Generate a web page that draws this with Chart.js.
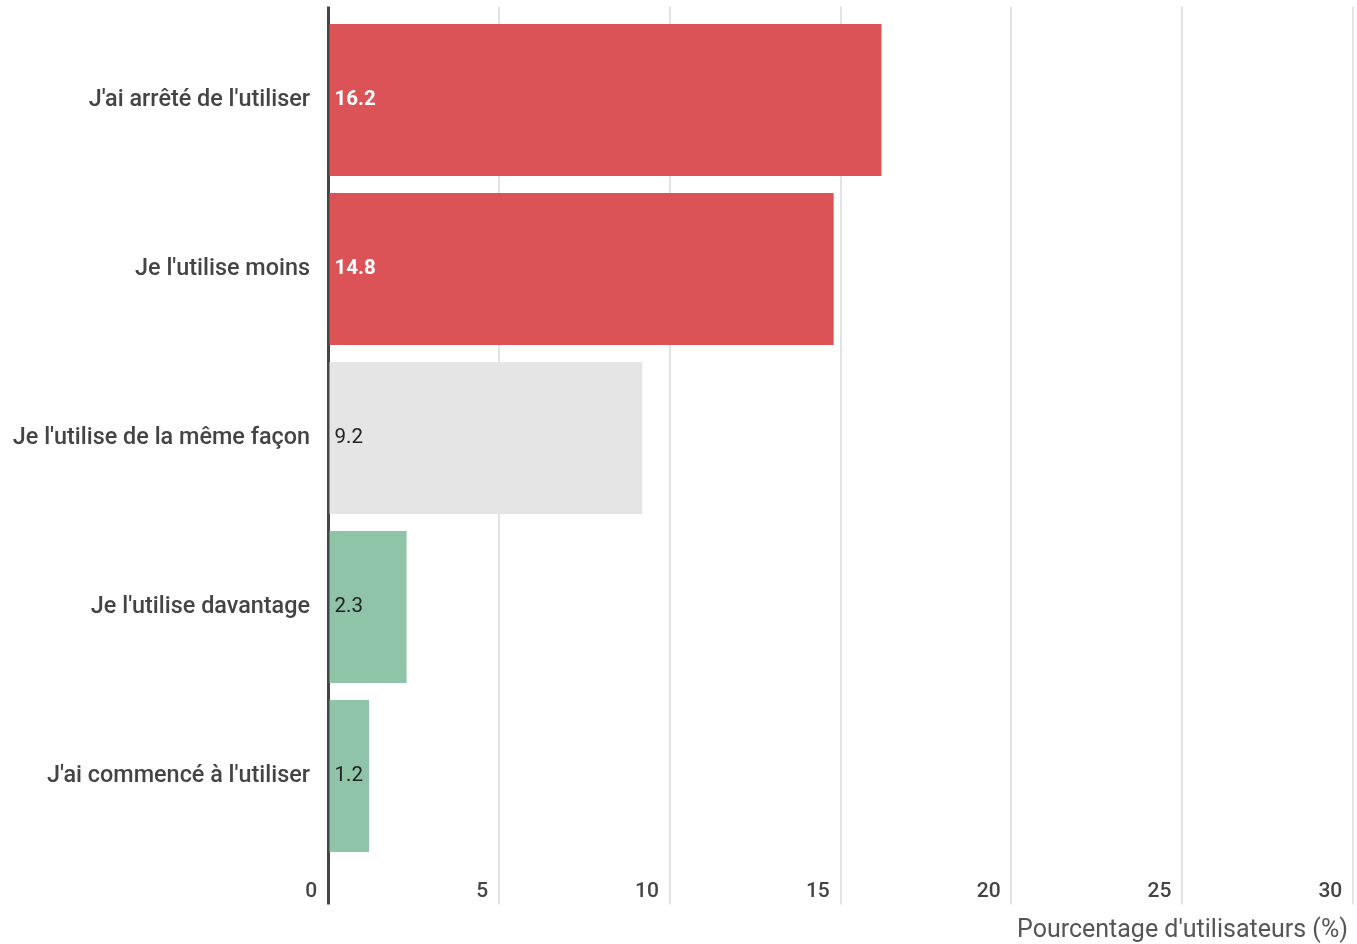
<!DOCTYPE html>
<html>
<head>
<meta charset="utf-8">
<script src="https://cdn.jsdelivr.net/npm/chart.js@4.4.1/dist/chart.umd.min.js"></script>
<style>
  html, body { margin: 0; padding: 0; background: #fff; }
  #wrap { width: 1357px; height: 944px; position: relative; }
</style>
</head>
<body>
<div id="wrap"><canvas id="usageChart"></canvas></div>
<script>
const categories = [
  "J'ai arrêté de l'utiliser",
  "Je l'utilise moins",
  "Je l'utilise de la même façon",
  "Je l'utilise davantage",
  "J'ai commencé à l'utiliser"
];
const percentages = [16.2, 14.8, 9.2, 2.3, 1.2];
const xTicks = [0, 5, 10, 15, 20, 25, 30];
const axisTitle = "Pourcentage d'utilisateurs (%)";

const barColours = ['#db5356', '#db5356', '#e5e5e5', '#8fc4a8', '#8fc4a8'];
const labelColours = ['#ffffff', '#ffffff', '#222222', '#222222', '#222222'];
const labelWeights = ['bold', 'bold', 'normal', 'normal', 'normal'];

Chart.defaults.font.family = 'Roboto';
Chart.defaults.color = '#444';

// value printed just inside the start of each bar
const valueLabels = {
  id: 'valueLabels',
  afterDatasetsDraw(chart) {
    const ctx = chart.ctx;
    const meta = chart.getDatasetMeta(0);
    ctx.save();
    ctx.textBaseline = 'middle';
    ctx.textAlign = 'left';
    meta.data.forEach((bar, i) => {
      ctx.font = labelWeights[i] + ' 20.5px Roboto';
      ctx.fillStyle = labelColours[i];
      ctx.fillText(percentages[i].toFixed(1), bar.base + 5, bar.y);
    });
    ctx.restore();
  }
};

const useTicks = scale => {
  scale.ticks = xTicks.map(v => ({ value: v }));
};
const isZero = c => c.tick && c.tick.value === 0;

const ctx = document.getElementById('usageChart').getContext('2d');
const usageChart = new Chart(ctx, {
  type: 'bar',
  data: {
    labels: categories,
    datasets: [{
      data: percentages,
      backgroundColor: barColours,
      borderWidth: 0,
      categoryPercentage: 0.9,
      barPercentage: 1
    }]
  },
  options: {
    indexAxis: 'y',
    responsive: true,
    maintainAspectRatio: false,
    animation: false,
    layout: { padding: { top: 7, right: 4, left: 0, bottom: 0 } },
    plugins: {
      legend: { display: false },
      tooltip: { enabled: false }
    },
    scales: {
      x: {
        type: 'linear',
        position: 'bottom',
        min: 0,
        max: 30,
        afterBuildTicks: useTicks,
        afterFit: s => { s.height = 83.5; },
        border: { display: false },
        grid: {
          color: c => isZero(c) ? '#444' : '#e3e3e3',
          lineWidth: c => isZero(c) ? 3 : 2,
          tickLength: 44
        },
        ticks: {
          align: 'end',
          padding: -25,
          color: '#444',
          font: { size: 21, weight: 500 },
          callback: v => v + '\u2002'
        },
        title: {
          display: true,
          text: axisTitle + '\u2009',
          align: 'end',
          color: '#555',
          font: { size: 25 },
          padding: { top: 0, bottom: -2 }
        }
      },
      // short stubs of the gridlines above the plot
      xTop: {
        type: 'linear',
        position: 'top',
        axis: 'x',
        min: 0,
        max: 30,
        afterBuildTicks: useTicks,
        afterFit: s => { s.height = 8.5; },
        border: { display: false },
        grid: {
          drawOnChartArea: false,
          color: c => isZero(c) ? '#444' : '#e3e3e3',
          lineWidth: c => isZero(c) ? 3 : 2,
          tickLength: 9
        },
        ticks: { display: false }
      },
      y: {
        afterFit: s => {
          s.width = 328;
          s.paddingTop = 0;
          s.paddingBottom = 0;
        },
        border: { display: false },
        grid: { display: false, drawTicks: false },
        ticks: {
          padding: 18,
          color: '#444',
          font: { size: 23.4, weight: 500 }
        }
      }
    }
  },
  plugins: [valueLabels]
});

window.addEventListener('resize', () => {
  usageChart.resize();
});
</script>
</body>
</html>
